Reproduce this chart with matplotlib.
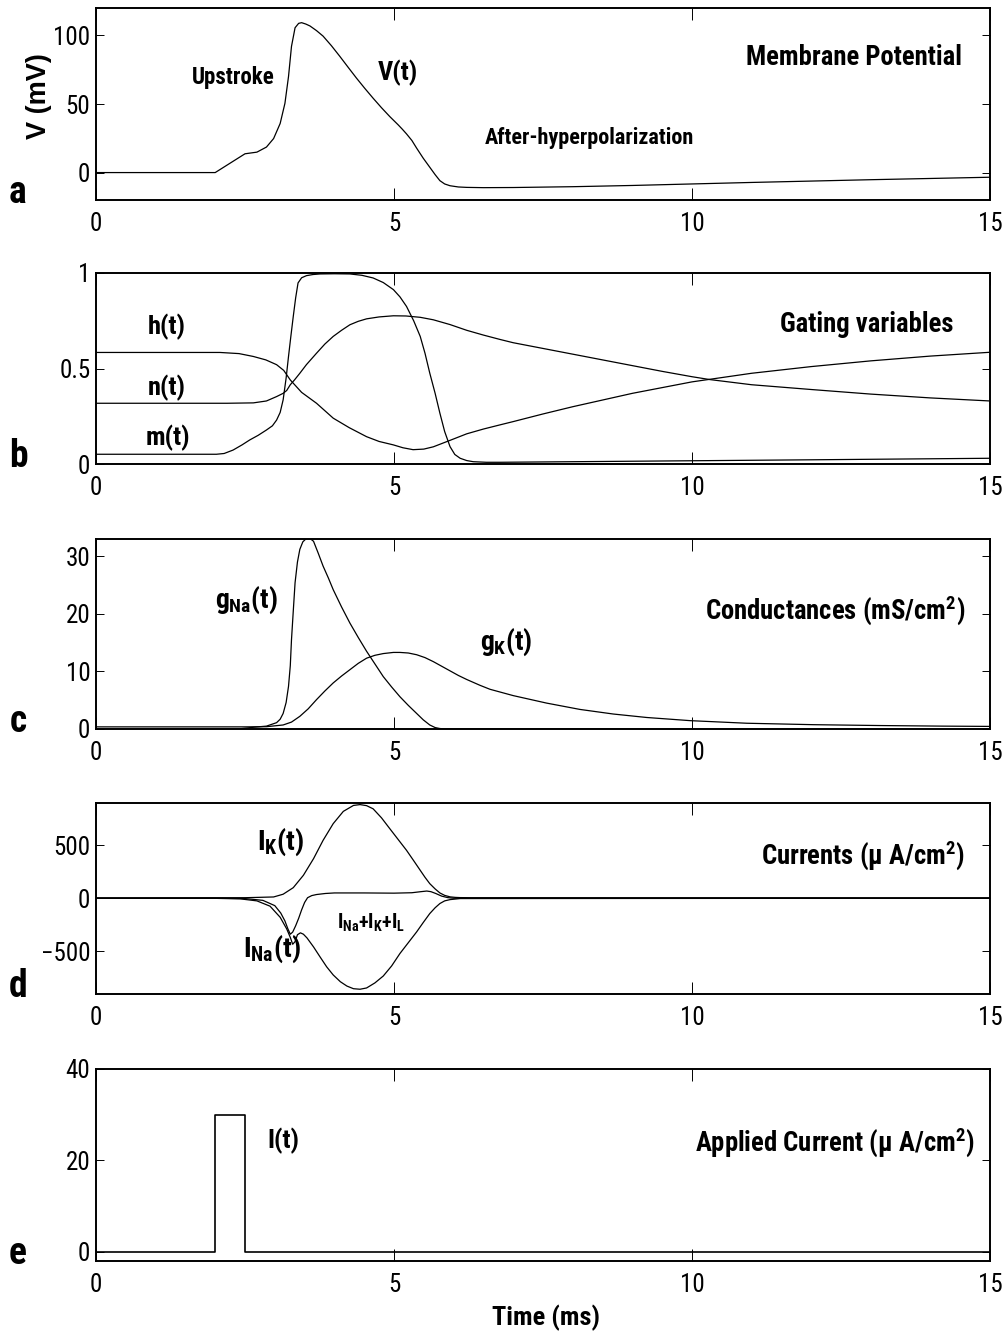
import matplotlib
matplotlib.use('Agg')
import matplotlib.pyplot as plt
from matplotlib import font_manager as fm

# fonts: the reference uses a condensed Helvetica; take a narrow face if one is installed
installed = {f.name for f in fm.fontManager.ttflist}
narrow = next((n for n in ['Nimbus Sans Narrow', 'Liberation Sans Narrow', 'Roboto Condensed',
                           'Arial Narrow', 'DejaVu Sans Condensed'] if n in installed), None)
base_font = narrow if narrow else 'Liberation Sans'
k = 1.0 if narrow else 0.86   # shrink sizes a bit when only the wide face is available

plt.rcParams['font.family'] = [base_font, 'Liberation Sans', 'DejaVu Sans']
plt.rcParams['mathtext.fontset'] = 'custom'
for key in ['rm', 'it', 'bf', 'sf']:
    plt.rcParams['mathtext.' + key] = base_font + ':bold'

# ---- data (time in ms) ----
# a: membrane potential
t_v = [0, 2.0, 2.5, 2.7, 2.86, 2.98, 3.09, 3.17, 3.23, 3.28, 3.34, 3.40, 3.45, 3.52, 3.59,
       3.70, 3.81, 3.95, 4.09, 4.23, 4.37, 4.51, 4.65, 4.79, 4.93, 5.07, 5.14, 5.21, 5.30,
       5.38, 5.49, 5.60, 5.69, 5.77, 5.85, 5.94, 6.08, 6.22, 6.5, 7.0, 8.0, 9.0, 10.0, 11.0,
       12.0, 13.0, 14.0, 15.0]
v_mem = [0, 0, 13.7, 14.9, 18.6, 24.8, 35.8, 50.5, 70, 92, 105.6, 108.8, 109.3, 108.3, 106.9,
         103.5, 99.5, 92.5, 84.8, 76.8, 68.9, 61.4, 54.2, 47.3, 40.8, 34.8, 31.6, 28.2, 23.4,
         17.8, 10.5, 3.9, -1.5, -5.9, -8.3, -9.6, -10.5, -10.8, -11.0, -10.9, -10.3, -9.4,
         -8.3, -7.2, -6.2, -5.2, -4.3, -3.4]

# b: gating variables
t_h = [0, 2.08, 2.40, 2.64, 2.85, 3.03, 3.15, 3.26, 3.45, 3.70, 3.98, 4.25, 4.54, 4.75, 4.99,
       5.15, 5.32, 5.50, 5.66, 5.95, 6.22, 6.5, 6.78, 7.0, 7.5, 8.0, 9.0, 10.0, 11.0, 12.0,
       13.0, 14.0, 15.0]
h_vals = [0.584, 0.584, 0.578, 0.563, 0.545, 0.52, 0.49, 0.44, 0.375, 0.318, 0.24, 0.19, 0.143,
          0.118, 0.10, 0.085, 0.075, 0.078, 0.09, 0.125, 0.158, 0.183, 0.205, 0.222, 0.262,
          0.30, 0.37, 0.43, 0.475, 0.51, 0.54, 0.565, 0.585]

t_n = [0, 2.2, 2.64, 2.86, 3.03, 3.14, 3.20, 3.26, 3.33, 3.42, 3.53, 3.70, 3.84, 3.98, 4.12,
       4.26, 4.40, 4.54, 4.75, 4.99, 5.2, 5.44, 5.66, 5.94, 6.22, 6.5, 6.78, 7.0, 7.5, 8.0,
       8.5, 9.0, 9.5, 10.0, 10.3, 11.0, 12.0, 13.0, 14.0, 15.0]
n_vals = [0.318, 0.318, 0.32, 0.33, 0.353, 0.37, 0.385, 0.415, 0.44, 0.475, 0.52, 0.58, 0.628,
          0.668, 0.70, 0.729, 0.747, 0.76, 0.770, 0.776, 0.775, 0.768, 0.755, 0.73, 0.70,
          0.675, 0.652, 0.635, 0.605, 0.575, 0.545, 0.515, 0.485, 0.457, 0.442, 0.415, 0.39,
          0.366, 0.346, 0.33]

t_m = [0, 2.02, 2.15, 2.30, 2.45, 2.58, 2.72, 2.86, 2.96, 3.03, 3.09, 3.14, 3.19, 3.23, 3.27,
       3.31, 3.35, 3.39, 3.45, 3.53, 3.64, 3.76, 4.0, 4.26, 4.46, 4.65, 4.82, 4.99, 5.10, 5.21,
       5.33, 5.44, 5.52, 5.60, 5.69, 5.77, 5.85, 5.94, 6.02, 6.11, 6.22, 6.33, 6.55, 6.78, 8.0,
       10.0, 12.0, 15.0]
m_vals = [0.051, 0.051, 0.055, 0.073, 0.10, 0.126, 0.15, 0.178, 0.20, 0.23, 0.27, 0.336, 0.45,
          0.563, 0.67, 0.773, 0.87, 0.948, 0.975, 0.986, 0.992, 0.995, 0.996, 0.995, 0.988,
          0.974, 0.95, 0.913, 0.875, 0.825, 0.75, 0.668, 0.58, 0.476, 0.37, 0.266, 0.17, 0.091,
          0.05, 0.03, 0.018, 0.012, 0.009, 0.009, 0.012, 0.017, 0.022, 0.03]

# c: conductances
t_gna = [0, 2.4, 2.64, 2.86, 3.03, 3.09, 3.14, 3.19, 3.23, 3.26, 3.28, 3.31, 3.34, 3.38, 3.42,
         3.47, 3.53, 3.59, 3.65, 3.73, 3.81, 3.90, 3.98, 4.12, 4.26, 4.40, 4.54, 4.68, 4.82,
         4.96, 5.10, 5.24, 5.38, 5.49, 5.60, 5.69, 5.77, 5.85, 6.0, 15.0]
g_na = [0.01, 0.02, 0.3, 0.5, 1.1, 1.7, 2.7, 4.6, 7.4, 11.0, 15.5, 20.5, 25.4, 29.0, 31.2,
        32.5, 33.1, 33.1, 32.6, 30.5, 28.3, 26.2, 24.2, 21.2, 18.4, 15.9, 13.5, 11.3, 9.1, 7.3,
        5.6, 4.1, 2.7, 1.6, 0.7, 0.25, 0.08, 0.03, 0.01, 0.01]

t_gk = [0, 2.5, 2.86, 3.14, 3.28, 3.42, 3.56, 3.70, 3.84, 3.98, 4.12, 4.26, 4.40, 4.54, 4.68,
        4.82, 4.99, 5.10, 5.24, 5.38, 5.52, 5.66, 5.80, 5.94, 6.08, 6.22, 6.44, 6.61, 7.0, 7.56,
        8.12, 8.68, 9.24, 9.97, 10.92, 12.04, 13.16, 14.2, 15.0]
g_k = [0.37, 0.37, 0.4, 0.7, 1.2, 2.2, 3.5, 5.1, 6.6, 8.0, 9.2, 10.3, 11.4, 12.3, 12.8, 13.1,
       13.3, 13.3, 13.2, 12.9, 12.4, 11.7, 10.9, 10.1, 9.3, 8.6, 7.6, 6.9, 5.8, 4.5, 3.4, 2.6,
       2.0, 1.45, 1.0, 0.75, 0.6, 0.5, 0.45]

# d: currents
t_ik = [0, 2.5, 2.98, 3.14, 3.31, 3.48, 3.65, 3.81, 3.98, 4.15, 4.32, 4.43, 4.54, 4.65, 4.79,
        4.93, 5.07, 5.21, 5.33, 5.44, 5.52, 5.60, 5.69, 5.77, 5.85, 5.94, 6.03, 6.11, 6.3, 15.0]
i_k = [4, 5, 12, 38, 100, 217, 374, 547, 705, 821, 877, 885, 875, 845, 760, 657, 555, 453, 355,
       264, 198, 138, 88, 50, 27, 13, 8, 6, 5, 4]

t_ina = [0, 2.0, 2.42, 2.70, 2.92, 3.09, 3.20, 3.26, 3.30, 3.34, 3.38, 3.43, 3.48, 3.54, 3.65,
         3.76, 3.87, 3.98, 4.10, 4.21, 4.32, 4.43, 4.54, 4.68, 4.82, 4.96, 5.10, 5.24, 5.38,
         5.49, 5.60, 5.69, 5.77, 5.85, 5.94, 6.11, 15.0]
i_na = [-1, -1, -6, -25, -75, -180, -290, -370, -435, -410, -345, -327, -340, -375, -460, -555,
        -648, -725, -789, -830, -855, -860, -848, -800, -735, -640, -522, -420, -318, -230,
        -145, -90, -50, -25, -13, -3, 0]

t_tot = [0, 2.0, 2.5, 2.8, 3.0, 3.1, 3.17, 3.22, 3.26, 3.30, 3.35, 3.40, 3.45, 3.50, 3.55, 3.62,
         3.70, 3.85, 4.0, 4.5, 5.0, 5.3, 5.45, 5.55, 5.62, 5.70, 5.80, 5.90, 6.0, 15.0]
i_tot = [0, 0, -3, -20, -70, -140, -215, -290, -340, -320, -260, -190, -110, -40, 5, 25, 35,
         45, 50, 50, 48, 52, 62, 68, 62, 45, 20, 6, 0, 0]

# e: applied current pulse
t_app = [0, 2.0, 2.0, 2.5, 2.5, 15.0]
i_app = [0, 0, 30, 30, 0, 0]

# ---- figure ----
W, H = 1004, 1336
fig = plt.figure(figsize=(W / 100, H / 100), dpi=100)


def make_axes(top, bottom):
    return fig.add_axes([96 / W, 1 - bottom / H, 894 / W, (bottom - top) / H])


def style(ax, ylim, yticks, yticklabels):
    ax.set_xlim(0, 15)
    ax.set_ylim(*ylim)
    ax.set_xticks([0, 5, 10, 15])
    ax.set_xticklabels(['0', '5', '10', '15'])
    ax.set_yticks(yticks)
    ax.set_yticklabels(yticklabels)
    ax.tick_params(axis='x', direction='in', length=8.6, width=0.7, top=True, pad=8.5,
                   labelsize=18 * k)
    ax.tick_params(axis='y', direction='in', length=6, width=0.7, right=True, pad=4,
                   labelsize=18 * k)
    for s in ax.spines.values():
        s.set_linewidth(1.4)


LW = 0.9
TITLE = 19.2 * k
CURVE = 19 * k
bold = dict(fontweight='bold')

# a
ax = make_axes(8, 200)
ax.plot(t_v, v_mem, color='k', lw=LW)
style(ax, (-20, 120), [0, 50, 100], ['0', '50', '100'])
ax.text(2.30, 69, 'Upstroke', ha='center', va='center', fontsize=16.5 * k, **bold)
ax.text(5.07, 73, 'V(t)', ha='center', va='center', fontsize=CURVE, **bold)
ax.text(6.53, 25, 'After-hyperpolarization', ha='left', va='center', fontsize=16 * k, **bold)
ax.text(14.53, 84, 'Membrane Potential', ha='right', va='center', fontsize=TITLE, **bold)

# b
ax = make_axes(273, 464)
ax.plot(t_h, h_vals, color='k', lw=LW)
ax.plot(t_n, n_vals, color='k', lw=LW)
ax.plot(t_m, m_vals, color='k', lw=LW)
style(ax, (0, 1), [0, 0.5, 1], ['0', '0.5', '1'])
ax.text(1.19, 0.72, 'h(t)', ha='center', va='center', fontsize=CURVE, **bold)
ax.text(1.19, 0.40, 'n(t)', ha='center', va='center', fontsize=CURVE, **bold)
ax.text(1.21, 0.135, 'm(t)', ha='center', va='center', fontsize=CURVE, **bold)
ax.text(14.38, 0.73, 'Gating variables', ha='right', va='center', fontsize=TITLE, **bold)

# c
ax = make_axes(539, 729)
ax.plot(t_gna, g_na, color='k', lw=LW)
ax.plot(t_gk, g_k, color='k', lw=LW)
style(ax, (0, 33), [0, 10, 20, 30], ['0', '10', '20', '30'])
ax.text(2.0, 21.1, r'$g_{Na}(t)$', ha='left', va='baseline', fontsize=20 * k)
ax.text(6.44, 13.7, r'$g_{K}(t)$', ha='left', va='baseline', fontsize=20 * k)
ax.text(14.58, 20.6, 'Conductances (mS/cm$^2$)', ha='right', va='center', fontsize=TITLE,
        **bold)

# d
ax = make_axes(803, 994)
ax.plot(t_ik, i_k, color='k', lw=LW)
ax.plot(t_ina, i_na, color='k', lw=LW)
ax.plot(t_tot, i_tot, color='k', lw=LW)
style(ax, (-905, 900), [-500, 0, 500], ['\u2212500', '0', '500'])
ax.text(2.70, 453, r'$I_{K}(t)$', ha='left', va='baseline', fontsize=20.5 * k)
ax.text(2.47, -553, r'$I_{Na}(t)$', ha='left', va='baseline', fontsize=20.5 * k)
ax.text(4.04, -286, r'$I_{Na}{+}I_{K}{+}I_{L}$', ha='left', va='baseline', fontsize=14.5 * k)
ax.text(14.58, 405, 'Currents (\u03bc A/cm$^2$)', ha='right', va='center', fontsize=TITLE,
        **bold)

# e
ax = make_axes(1069, 1261)
ax.plot(t_app, i_app, color='k', lw=1.2)
style(ax, (-2, 40), [0, 20, 40], ['0', '20', '40'])
ax.text(3.14, 24.3, 'I(t)', ha='center', va='center', fontsize=CURVE, **bold)
ax.text(14.75, 24, 'Applied Current (\u03bc A/cm$^2$)', ha='right', va='center', fontsize=TITLE,
        **bold)

# panel letters and shared labels
for letter, base in zip('abcde', [203, 467, 732, 997, 1264]):
    fig.text(18 / W, 1 - base / H, letter, ha='center', va='baseline', fontsize=27 * k, **bold)

fig.text(39 / W, 1 - 96 / H, 'V (mV)', rotation=90, ha='center', va='center', fontsize=19.5,
         family=['Liberation Sans', 'DejaVu Sans'], **bold)
fig.text(546 / W, 1 - 1318 / H, 'Time (ms)', ha='center', va='center', fontsize=19 * k, **bold)

fig.savefig('out.png', dpi=100)
